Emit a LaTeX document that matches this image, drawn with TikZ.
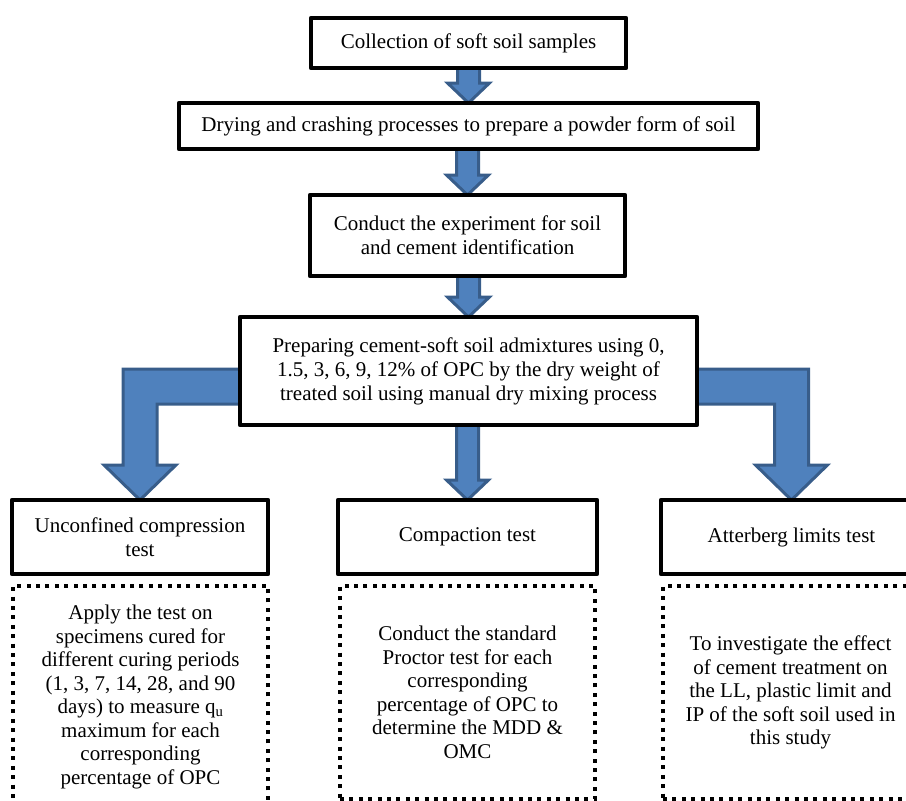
\documentclass[tikz,border=0pt]{standalone}
\usepackage{fontspec}
\setmainfont{Liberation Serif}
\usetikzlibrary{calc,backgrounds}
\definecolor{arrowblue}{RGB}{79,129,189}
\definecolor{arrowedge}{RGB}{56,93,138}
\tikzset{
  stepbox/.style={draw,line width=4.5pt,line join=round,fill=white,outer sep=0pt,inner sep=0pt,
    align=center,font=\fontsize{21}{24}\selectfont},
  notebox/.style={draw,line width=4pt,dash pattern=on 4pt off 5.4pt,outer sep=0pt,inner sep=0pt,
    align=center,font=\fontsize{21}{23.5}\selectfont},
  blk/.style={fill=arrowblue,draw=arrowedge,line width=3pt,line join=miter}
}
% straight block arrow, tip at #2
\newcommand{\downblk}[2]{%
  \filldraw[blk] let \p1=(#1), \p2=(#2) in
    (\x2-11pt,\y1) -- (\x2-11pt,\y2+20pt) -- (\x2-21pt,\y2+20pt) -- (\x2,\y2)
    -- (\x2+21pt,\y2+20pt) -- (\x2+11pt,\y2+20pt) -- (\x2+11pt,\y1) -- cycle;}
\begin{document}
\begin{tikzpicture}[x=1pt,y=-1pt]
  \useasboundingbox (0,0) rectangle (906,801);
  \clip (0,0) rectangle (906,801);
  \node[stepbox,minimum width=315pt,minimum height=50pt] (collect) at (468.5,43) {Collection of soft soil samples};
  \node[stepbox,minimum width=579pt,minimum height=46pt] (dry) at (468.5,126) {Drying and crashing processes to prepare a powder form of soil};
  \node[stepbox,minimum width=315pt,minimum height=81pt] (ident) at (467.5,235.5) {Conduct the experiment for soil\\and cement identification};
  \node[stepbox,minimum width=457pt,minimum height=108pt] (prep) at (468.5,371) {Preparing cement-soft soil admixtures using 0,\\1.5, 3, 6, 9, 12\% of OPC by the dry weight of\\treated soil using manual dry mixing process};
  \node[stepbox,minimum width=256pt,minimum height=74pt] (ucs) at (140,537) {Unconfined compression\\test};
  \node[stepbox,minimum width=259pt,minimum height=74pt] (compact) at (467.5,537) {Compaction test};
  \node[stepbox,minimum width=261pt,minimum height=74pt] (atter) at (791.5,537) {Atterberg limits test};
  \node[notebox,minimum width=255pt,minimum height=222pt] (ucsnote) at (140.5,697)
    {Apply the test on\\specimens cured for\\different curing periods\\(1, 3, 7, 14, 28, and 90\\days) to measure q\textsubscript{u}\\maximum for each\\corresponding\\percentage of OPC};
  \node[notebox,minimum width=255pt,minimum height=213pt] (compnote) at (467.5,692.5)
    {Conduct the standard\\Proctor test for each\\corresponding\\percentage of OPC to\\determine the MDD \&\\OMC};
  \node[notebox,minimum width=255pt,minimum height=213pt] (atternote) at (790.5,692.5)
    {To investigate the effect\\of cement treatment on\\the LL, plastic limit and\\IP of the soft soil used in\\this study};
  \begin{scope}[on background layer]
    \downblk{collect.south}{dry.north}
    \downblk{dry.south}{ident.north}
    \downblk{ident.south}{prep.north}
    \downblk{prep.south}{compact.north}
    \filldraw[blk] let \p1=($(prep.west)+(0,15.5)$), \p2=(ucs.north) in
      (\x1,\y1+17.5pt) -- (\x2-17pt,\y1+17.5pt) -- (\x2-17pt,\y2+35pt) -- (\x2-36pt,\y2+35pt) -- (\x2,\y2)
      -- (\x2+36pt,\y2+35pt) -- (\x2+17pt,\y2+35pt) -- (\x2+17pt,\y1-17.5pt) -- (\x1,\y1-17.5pt) -- cycle;
    \filldraw[blk] let \p1=($(prep.east)+(0,15.5)$), \p2=(atter.north) in
      (\x1,\y1+17.5pt) -- (\x2+17pt,\y1+17.5pt) -- (\x2+17pt,\y2+35pt) -- (\x2+36pt,\y2+35pt) -- (\x2,\y2)
      -- (\x2-36pt,\y2+35pt) -- (\x2-17pt,\y2+35pt) -- (\x2-17pt,\y1-17.5pt) -- (\x1,\y1-17.5pt) -- cycle;
  \end{scope}
\end{tikzpicture}
\end{document}
